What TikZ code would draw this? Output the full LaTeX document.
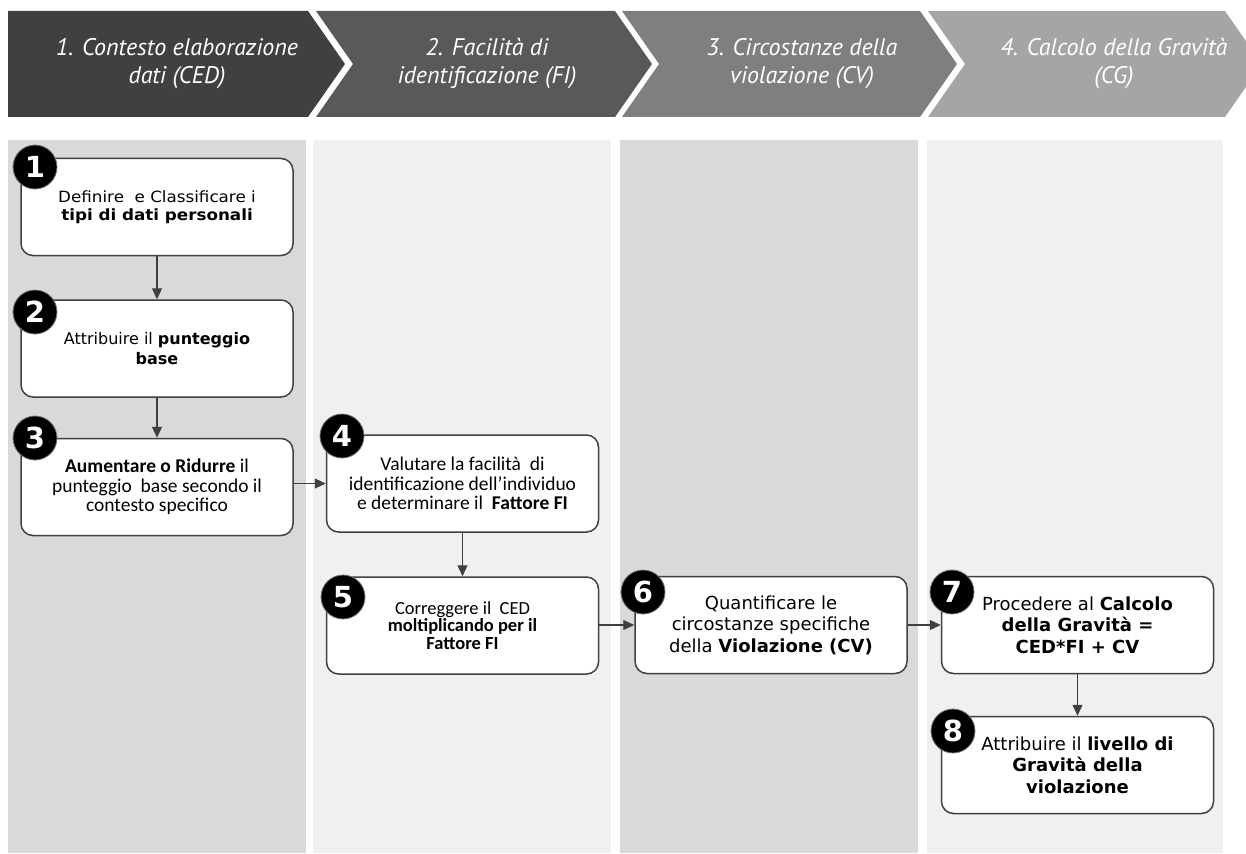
\documentclass[tikz,border=0pt]{standalone}
\usepackage{fontspec}
\setmainfont{DejaVu Sans}
\newfontfamily\dv{DejaVu Sans}
\newfontfamily\dvw[FakeStretch=1.08]{DejaVu Sans}
\newfontfamily\cb{Carlito}
\newfontfamily\hd{PT Sans}
\usetikzlibrary{arrows.meta}
\definecolor{chA}{HTML}{404040}
\definecolor{chB}{HTML}{595959}
\definecolor{chC}{HTML}{7F7F7F}
\definecolor{chD}{HTML}{A5A5A5}
\definecolor{colDark}{HTML}{D9D9D9}
\definecolor{colLight}{HTML}{F0F0F0}
\definecolor{lineC}{HTML}{404040}
\begin{document}
\begin{tikzpicture}[x=1pt,y=-1pt,
  hdtext/.style={text=white, align=center, font=\hd\itshape\fontsize{24}{28}\selectfont},
  stepbox/.style={draw=lineC, fill=white, rounded corners=12pt, line width=1.5pt,
    minimum width=272pt, minimum height=97pt, align=center, inner sep=2pt},
  dvA/.style={font=\dvw\fontsize{15.5}{17.5}\selectfont},
  dvB/.style={font=\dv\fontsize{16}{19.5}\selectfont},
  dvC/.style={font=\dv\fontsize{18}{21.5}\selectfont},
  cbA/.style={font=\cb\fontsize{19.5}{19.5}\selectfont},
  cbB/.style={font=\cb\fontsize{18.5}{17.5}\selectfont},
  numcirc/.style={circle, fill=black, draw=black!55, line width=0.8pt, minimum size=44pt,
    inner sep=0pt, text=white, font=\dv\bfseries\fontsize{29}{29}\selectfont},
  conn/.style={draw=lineC, line width=1.2pt, -{Triangle[length=11pt,width=10pt]}}]
\useasboundingbox (0,0) rectangle (1246,853);
\clip (0,0) rectangle (1246,853);
% column panels
\fill[colDark] (8,140) rectangle (306,853);
\fill[colLight] (313,140) rectangle (611,853);
\fill[colDark] (620,140) rectangle (918,853);
\fill[colLight] (927,140) rectangle (1223,853);
% header chevrons
\fill[chA] (8,11) -- (308,11) -- (345,64) -- (308,117) -- (8,117) -- cycle;
\fill[chB] (316,11) -- (615,11) -- (652,64) -- (615,117) -- (316,117) -- (353,64) -- cycle;
\fill[chC] (622,11) -- (920,11) -- (957,64) -- (920,117) -- (622,117) -- (659,64) -- cycle;
\fill[chD] (928,11) -- (1225,11) -- (1262,64) -- (1225,117) -- (928,117) -- (965,64) -- cycle;
\node[hdtext] (h1) at (177,64) {1. Contesto elaborazione\\dati (CED)};
\node[hdtext] (h2) at (487,64) {2. Facilità di\\identificazione (FI)};
\node[hdtext] (h3) at (802,64) {3. Circostanze della\\violazione (CV)};
\node[hdtext] (h4) at (1114,64) {4. Calcolo della Gravità\\(CG)};
% step boxes
\node[stepbox, dvA] (b1) at (157,207) {Definire \ e Classificare i\\\textbf{tipi di dati personali}};
\node[stepbox, dvB] (b2) at (157,348.5) {Attribuire il \textbf{punteggio}\\\textbf{base}};
\node[stepbox, cbA] (b3) at (157,487) {\textbf{Aumentare o Ridurre} il\\punteggio \ base secondo il\\contesto specifico};
\node[stepbox, cbA] (b4) at (462.5,483.5) {Valutare la facilità \ di\\identificazione dell’individuo\\e determinare il \ \textbf{Fattore FI}};
\node[stepbox, cbB] (b5) at (462.5,625.5) {Correggere il \ CED\\\textbf{moltiplicando per il}\\\textbf{Fattore FI}};
\node[stepbox, dvC] (b6) at (771,625) {Quantificare le\\circostanze specifiche\\della \textbf{Violazione (CV)}};
\node[stepbox, dvC] (b7) at (1077.5,625) {Procedere al \textbf{Calcolo}\\\textbf{della Gravità =}\\\textbf{CED*FI + CV}};
\node[stepbox, dvC] (b8) at (1077.5,765) {Attribuire il \textbf{livello di}\\\textbf{Gravità della}\\\textbf{violazione}};
% connectors
\draw[conn] (b1) -- (b2);
\draw[conn] (b2) -- (b3);
\draw[conn] (b4.west -| b3.east) -- (b4.west);
\draw[conn] (b4) -- (b4 |- b5.north);
\draw[conn] (b6.west -| b5.east) -- (b6.west);
\draw[conn] (b6) -- (b7);
\draw[conn] (b7) -- (b8);
% number circles
\node[numcirc] (n1) at (35,167) {1};
\node[numcirc] (n2) at (35,312) {2};
\node[numcirc] (n3) at (35,438) {3};
\node[numcirc] (n4) at (342,436) {4};
\node[numcirc] (n5) at (343,597) {5};
\node[numcirc] (n6) at (643,592) {6};
\node[numcirc] (n7) at (952,592) {7};
\node[numcirc] (n8) at (953,731) {8};
\end{tikzpicture}
\end{document}
